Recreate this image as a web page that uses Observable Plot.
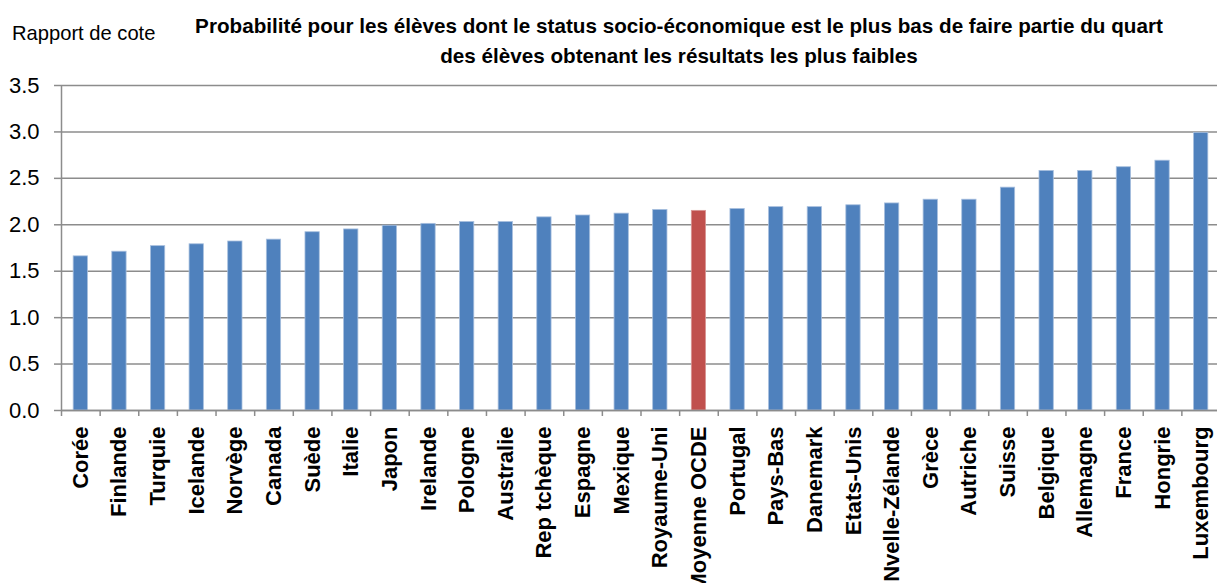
<!DOCTYPE html>
<html><head><meta charset="utf-8">
<script src="https://cdn.jsdelivr.net/npm/d3@7"></script>
<script src="https://cdn.jsdelivr.net/npm/@observablehq/plot@0.6"></script>
<style>
body{margin:0;background:#fff;overflow:hidden}
#wrap{position:relative;width:1217px;height:583px;background:#fff}
#chart{position:absolute;left:0;top:0}
.txt{position:absolute;white-space:nowrap;font-family:"Liberation Sans",Arial,sans-serif;color:#000;line-height:24px;font-size:21px}
#ylab{left:12px;top:21px;transform-origin:0 50%}
.tl{left:679px;font-weight:bold}
#t1{top:14px}
#t2{top:44px}
</style></head>
<body><div id="wrap">
<div id="chart"></div>
<div id="ylab" class="txt">Rapport de cote</div>
<div id="t1" class="txt tl">Probabilité pour les élèves dont le status socio-économique est le plus bas de faire partie du quart</div>
<div id="t2" class="txt tl">des élèves obtenant les résultats les plus faibles</div>
</div>
<script>
const countries = ["Corée","Finlande","Turquie","Icelande","Norvège","Canada","Suède","Italie","Japon","Irelande","Pologne","Australie","Rep tchèque","Espagne","Mexique","Royaume-Uni","Moyenne OCDE","Portugal","Pays-Bas","Danemark","Etats-Unis","Nvelle-Zélande","Grèce","Autriche","Suisse","Belgique","Allemagne","France","Hongrie","Luxembourg"];
const values = [1.66,1.71,1.77,1.79,1.82,1.84,1.92,1.95,1.99,2.01,2.03,2.03,2.08,2.10,2.12,2.16,2.15,2.17,2.19,2.19,2.21,2.23,2.27,2.27,2.40,2.58,2.58,2.62,2.69,2.99];
const yTicks = [0,0.5,1,1.5,2,2.5,3,3.5];
const highlight = "Moyenne OCDE";

const data = countries.map((c,i)=>({country:c, value:values[i]}));
const W = 1217, ML = 61, MR = -3;
const step = (W - ML - MR) / countries.length;
const gray = "#8c8c8c";
const font = '"Liberation Sans",Arial,sans-serif';

const chart = Plot.plot({
  width: W, height: 583,
  marginTop: 85, marginBottom: 173, marginLeft: ML, marginRight: MR,
  style: {background: "#fff", fontFamily: font, overflow: "hidden"},
  x: {domain: countries, paddingInner: 0.63, paddingOuter: 0.315, round: false, axis: null},
  y: {domain: [0, 3.5], axis: null},
  color: {domain: [false, true], range: ["#4F81BD", "#C0504D"]},
  marks: [
    Plot.ruleY(yTicks, {stroke: gray, strokeWidth: 1.5}),
    Plot.axisY(yTicks, {tickSize: 7, tickPadding: 15, tickFormat: d => d.toFixed(1), stroke: gray, strokeWidth: 1.5, fill: "#000", fontSize: 22, label: null}),
    Plot.ruleX([countries[0]], {dx: -step/2, stroke: gray, strokeWidth: 1.5}),
    Plot.barY(data, {x: "country", y: "value", fill: d => d.country === highlight, stroke: d => d.country === highlight ? "#d99795" : "#a7bfde", strokeWidth: 0.8}),
    Plot.axisX({tickSize: 6, dx: -step/2, tickFormat: () => "", stroke: gray, strokeWidth: 1.5, label: null}),
    Plot.ruleY([0], {stroke: gray, strokeWidth: 1.5}),
    Plot.axisX({tickSize: 0, tickPadding: 16, tickRotate: -90, fontSize: 22, fontWeight: "bold", fill: "#000", label: null})
  ]
});
document.getElementById("chart").appendChild(chart);

// fit the header texts to the reference widths
const t1 = document.getElementById("t1"), t2 = document.getElementById("t2"), yl = document.getElementById("ylab");
const s = 968 / t1.offsetWidth;
t1.style.transform = `translateX(-50%) scaleX(${s})`;
t2.style.transform = `translateX(-50%) scaleX(${s})`;
yl.style.transform = `scaleX(${143 / yl.offsetWidth})`;
</script>
</body></html>
